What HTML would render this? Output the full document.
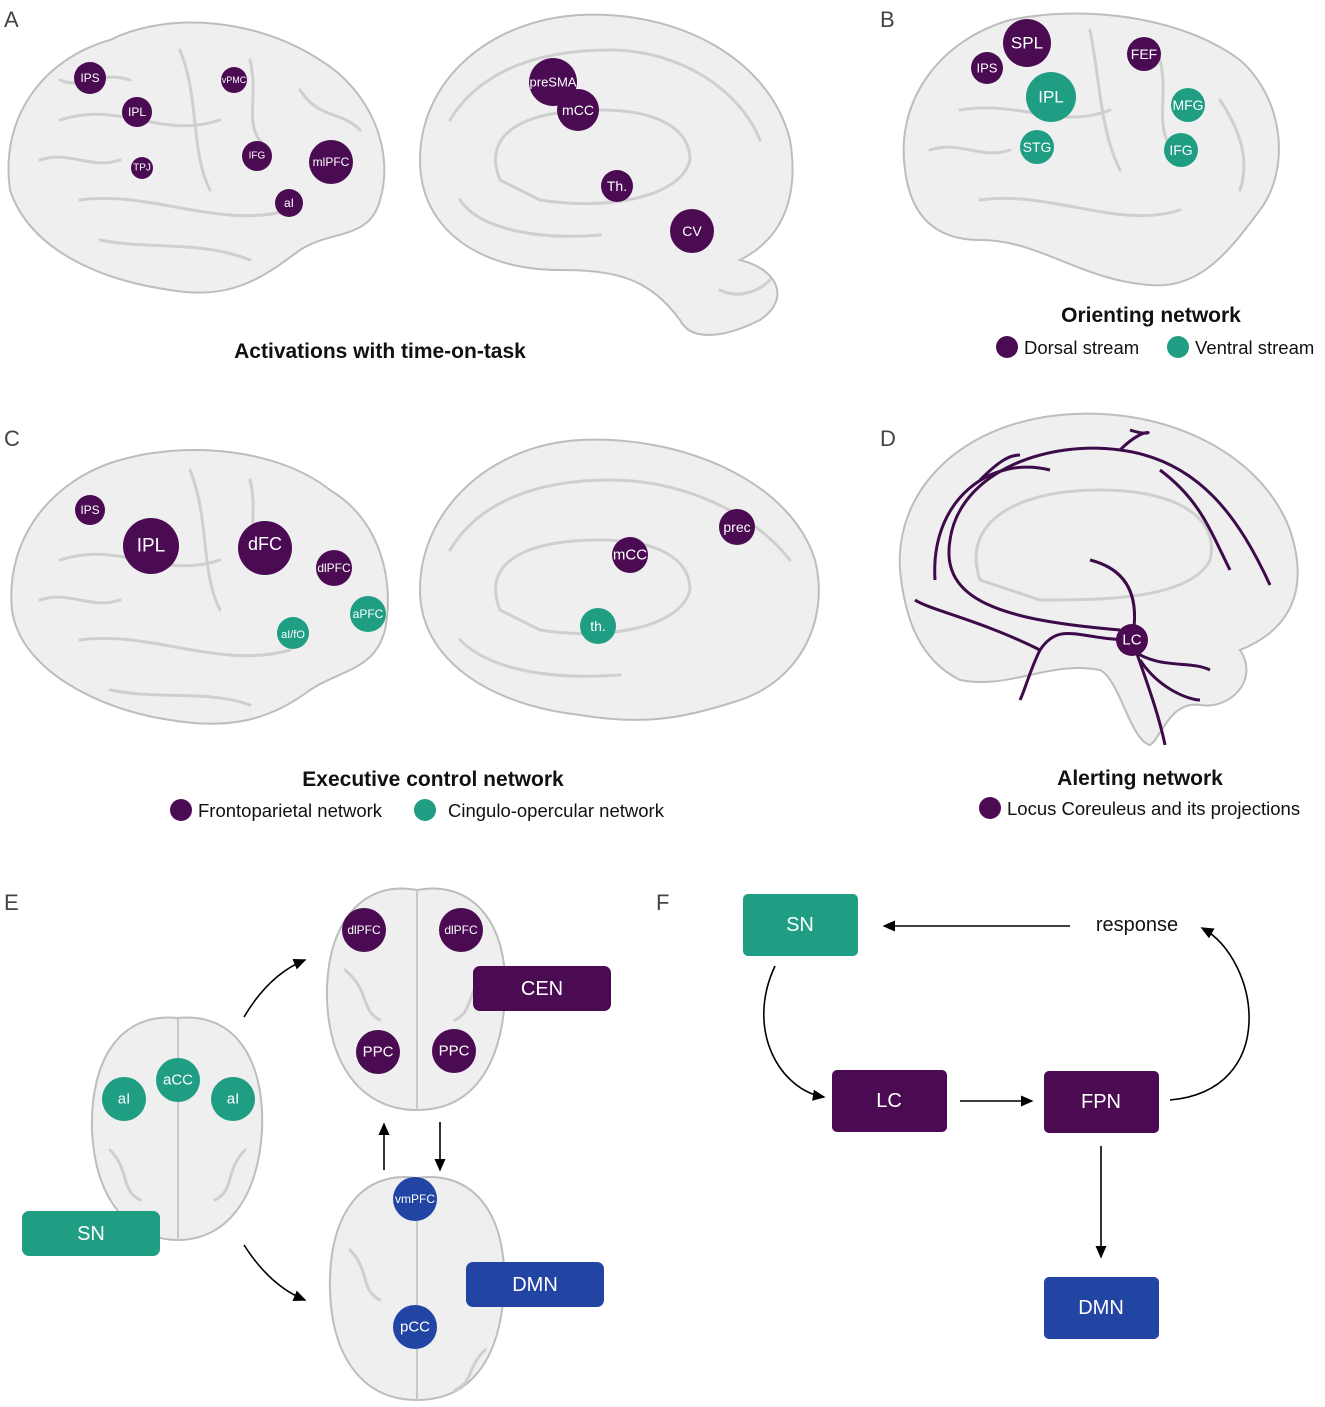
<!DOCTYPE html>
<html><head><meta charset="utf-8"><style>
html,body{margin:0;padding:0;background:#fff}
svg{display:block}
text{font-family:"Liberation Sans","DejaVu Sans",sans-serif}
.b{fill:#efefef;stroke:#bdbdbd;stroke-width:2}
.g{fill:none;stroke:#cfcfcf;stroke-width:3;stroke-linecap:round}
.p{fill:#4a0b52}.t{fill:#1f9e84}.bl{fill:#2244a2}
.w{fill:#fff;text-anchor:middle;dominant-baseline:central}
.h{font-size:21px;font-weight:bold;text-anchor:middle;fill:#111}
.l{font-size:18.5px;fill:#111}
.pl{font-size:22px;fill:#444}
</style></head><body>
<svg width="1325" height="1407" viewBox="0 0 1325 1407" xmlns="http://www.w3.org/2000/svg">
<defs><marker id="a" markerWidth="8" markerHeight="8" refX="7" refY="4" orient="auto"><path d="M0,0.5 L8,4 L0,7.5 Z" fill="#000"/></marker></defs>
<g class="pl"><text x="4" y="27">A</text><text x="880" y="27">B</text><text x="4" y="446">C</text><text x="880" y="446">D</text><text x="4" y="910">E</text><text x="656" y="910">F</text></g>

<!-- A brains -->
<path class="b" d="M10,190 C0,120 40,60 110,40 C170,10 260,20 320,60 C370,90 395,150 380,200 C370,240 330,230 300,250 C260,280 230,300 170,290 C100,280 30,250 10,190Z"/>
<path class="g" d="M60,120 C120,100 160,140 220,120 M80,200 C150,190 220,230 290,210 M180,50 C200,100 190,150 210,190 M40,160 C70,150 90,170 120,160 M250,60 C260,100 240,130 270,150 M300,90 C320,120 340,110 360,130 M100,240 C150,250 200,240 250,260 M60,80 C80,90 100,70 130,80"/>
<path class="b" d="M420,160 C420,80 490,20 580,15 C680,10 770,60 790,140 C800,200 780,240 740,260 C780,270 790,300 760,320 C720,340 690,340 680,320 C650,280 620,270 560,270 C480,270 420,230 420,160Z"/>
<path class="g" d="M500,180 C480,130 530,110 600,110 C660,110 690,130 690,160 C680,200 600,210 540,200Z M450,120 C480,70 540,50 610,50 C680,50 740,90 760,140 M460,200 C480,230 540,240 600,235 M720,290 C740,300 760,290 770,280"/>
<g class="p"><circle cx="90" cy="78" r="16"/><circle cx="137" cy="112" r="15"/><circle cx="234" cy="80" r="13"/><circle cx="142" cy="168" r="11"/><circle cx="257" cy="156" r="15"/><circle cx="331" cy="162" r="22"/><circle cx="289" cy="203" r="14"/><circle cx="553" cy="82" r="24"/><circle cx="578" cy="110" r="21"/><circle cx="617" cy="186" r="16"/><circle cx="692" cy="231" r="22"/></g>
<g class="w"><text x="90" y="78" font-size="12">IPS</text><text x="137" y="112" font-size="12">IPL</text><text x="234" y="80" font-size="9">vPMC</text><text x="142" y="168" font-size="10">TPJ</text><text x="257" y="156" font-size="10">IFG</text><text x="331" y="162" font-size="12">mlPFC</text><text x="289" y="203" font-size="12">aI</text><text x="553" y="82" font-size="13">preSMA</text><text x="578" y="110" font-size="14">mCC</text><text x="617" y="186" font-size="14">Th.</text><text x="692" y="231" font-size="14">CV</text></g>
<text class="h" x="380" y="358">Activations with time-on-task</text>

<!-- B -->
<path class="b" d="M905,170 C895,100 940,40 1010,20 C1080,5 1180,15 1240,60 C1285,100 1290,170 1260,210 C1230,250 1200,290 1150,285 C1080,280 1040,240 980,240 C930,240 910,210 905,170Z"/>
<path class="g" d="M960,110 C1020,100 1060,130 1110,110 M980,200 C1050,190 1120,230 1180,210 M1090,30 C1100,80 1100,130 1120,170 M930,150 C960,140 980,160 1010,150 M1160,60 C1170,100 1150,130 1180,160 M1220,100 C1240,130 1250,160 1240,190"/>
<g class="p"><circle cx="1027" cy="43" r="24"/><circle cx="987" cy="68" r="16"/><circle cx="1144" cy="54" r="17"/></g>
<g class="t"><circle cx="1051" cy="97" r="25"/><circle cx="1188" cy="105" r="17"/><circle cx="1037" cy="147" r="17"/><circle cx="1181" cy="150" r="17"/></g>
<g class="w"><text x="1027" y="43" font-size="17">SPL</text><text x="987" y="68" font-size="13">IPS</text><text x="1144" y="54" font-size="14">FEF</text><text x="1051" y="97" font-size="17">IPL</text><text x="1188" y="105" font-size="14">MFG</text><text x="1037" y="147" font-size="14">STG</text><text x="1181" y="150" font-size="14">IFG</text></g>
<text class="h" x="1151" y="322">Orienting network</text>
<circle class="p" cx="1007" cy="347" r="11"/><text class="l" x="1024" y="354">Dorsal stream</text>
<circle class="t" cx="1178" cy="347" r="11"/><text class="l" x="1195" y="354">Ventral stream</text>

<!-- C -->
<path class="b" d="M12,610 C5,540 50,480 120,460 C190,440 280,450 330,490 C380,520 395,580 385,630 C375,670 340,670 310,690 C270,720 230,730 170,720 C100,710 20,670 12,610Z"/>
<path class="g" d="M60,560 C120,540 160,580 220,560 M80,640 C150,630 220,670 290,650 M190,470 C210,520 200,570 220,610 M40,600 C70,590 90,610 120,600 M250,480 C260,520 240,550 270,570 M110,690 C160,700 210,690 250,705"/>
<path class="b" d="M420,590 C420,510 490,445 580,440 C680,435 790,480 815,560 C830,620 800,680 740,700 C680,720 640,725 580,715 C490,705 420,660 420,590Z"/>
<path class="g" d="M500,610 C480,560 530,540 600,540 C660,540 690,560 690,590 C680,630 600,640 540,630Z M450,550 C480,500 540,480 610,480 C680,480 750,510 790,560 M460,640 C490,670 550,680 620,675"/>
<g class="p"><circle cx="90" cy="510" r="15"/><circle cx="151" cy="546" r="28"/><circle cx="265" cy="548" r="27"/><circle cx="334" cy="568" r="18"/><circle cx="630" cy="555" r="18"/><circle cx="737" cy="527" r="18"/></g>
<g class="t"><circle cx="368" cy="614" r="18"/><circle cx="293" cy="633" r="16"/><circle cx="598" cy="626" r="18"/></g>
<g class="w"><text x="90" y="510" font-size="12">IPS</text><text x="151" y="546" font-size="19">IPL</text><text x="265" y="544" font-size="18">dFC</text><text x="334" y="568" font-size="12">dlPFC</text><text x="630" y="555" font-size="15">mCC</text><text x="737" y="527" font-size="14">prec</text><text x="368" y="614" font-size="12">aPFC</text><text x="293" y="635" font-size="11">aI/fO</text><text x="598" y="626" font-size="14">th.</text></g>
<text class="h" x="433" y="786">Executive control network</text>
<circle class="p" cx="181" cy="810" r="11"/><text class="l" x="198" y="817">Frontoparietal network</text>
<circle class="t" cx="425" cy="810" r="11"/><text class="l" x="448" y="817">Cingulo-opercular network</text>

<!-- D -->
<path class="b" d="M900,570 C895,490 960,425 1060,415 C1160,405 1260,450 1290,530 C1310,590 1290,630 1240,650 C1260,680 1230,710 1200,705 C1170,700 1160,740 1150,745 C1130,740 1120,680 1100,670 C1050,660 1010,690 960,680 C920,660 905,620 900,570Z"/>
<path class="g" d="M980,580 C960,520 1020,490 1100,490 C1180,490 1220,520 1210,560 C1190,600 1100,600 1040,600Z"/>
<g fill="none" stroke="#3d0b4a" stroke-width="3">
<path d="M1132,640 C1080,640 1060,620 1040,650 C1030,670 1025,690 1020,700"/>
<path d="M1120,630 C1000,620 940,600 950,540 C960,470 1050,440 1120,450 C1200,460 1240,520 1270,585"/>
<path d="M1040,650 C980,620 930,610 915,600"/>
<path d="M935,580 C930,500 990,455 1050,470"/>
<path d="M1120,450 C1150,420 1160,440 1130,430"/>
<path d="M1160,470 C1200,500 1210,530 1230,570"/>
<path d="M1132,640 C1140,600 1130,570 1090,560"/>
<path d="M1132,640 C1150,690 1160,720 1165,745"/>
<path d="M1132,650 C1160,670 1190,660 1210,670"/>
<path d="M1140,660 C1160,690 1190,700 1200,700"/>
<path d="M980,480 C1000,460 1010,455 1020,455"/>
</g>
<circle class="p" cx="1132" cy="640" r="16"/><text class="w" x="1132" y="640" font-size="15">LC</text>
<text class="h" x="1140" y="785">Alerting network</text>
<circle class="p" cx="990" cy="808" r="11"/><text class="l" x="1007" y="815">Locus Coreuleus and its projections</text>

<!-- E -->
<path class="b" d="M417,890 C470,880 510,920 505,1000 C500,1070 470,1110 417,1110 C365,1110 330,1070 327,1000 C325,920 365,880 417,890Z"/>
<path class="b" d="M178,1018 C235,1012 265,1060 262,1130 C258,1200 225,1240 178,1240 C130,1240 95,1200 92,1130 C90,1060 120,1012 178,1018Z"/>
<path class="b" d="M417,1178 C470,1170 508,1210 504,1290 C500,1360 470,1400 417,1400 C365,1400 332,1360 330,1290 C328,1210 365,1170 417,1178Z"/>
<g stroke="#c8c8c8" stroke-width="2"><line x1="417" y1="890" x2="417" y2="1110"/><line x1="178" y1="1018" x2="178" y2="1240"/><line x1="417" y1="1178" x2="417" y2="1400"/></g>
<g class="g" stroke-width="2"><path d="M345,970 C370,990 360,1010 380,1020 M490,970 C465,990 475,1010 455,1020 M110,1150 C130,1170 120,1190 140,1200 M245,1150 C225,1170 235,1190 215,1200 M350,1250 C370,1270 360,1290 380,1300 M485,1350 C465,1370 475,1380 455,1390"/></g>
<g class="p"><circle cx="364" cy="930" r="22"/><circle cx="461" cy="930" r="22"/><circle cx="378" cy="1052" r="22"/><circle cx="454" cy="1051" r="22"/></g>
<g class="t"><circle cx="178" cy="1080" r="22"/><circle cx="124" cy="1099" r="22"/><circle cx="233" cy="1099" r="22"/></g>
<g class="bl"><circle cx="415" cy="1199" r="22"/><circle cx="415" cy="1327" r="22"/></g>
<g class="w"><text x="364" y="930" font-size="12">dlPFC</text><text x="461" y="930" font-size="12">dlPFC</text><text x="378" y="1052" font-size="15">PPC</text><text x="454" y="1051" font-size="15">PPC</text><text x="178" y="1080" font-size="15">aCC</text><text x="124" y="1099" font-size="15">aI</text><text x="233" y="1099" font-size="15">aI</text><text x="415" y="1199" font-size="12">vmPFC</text><text x="415" y="1327" font-size="15">pCC</text></g>
<rect class="p" x="473" y="966" width="138" height="45" rx="7"/><text class="w" x="542" y="989" font-size="20">CEN</text>
<rect class="t" x="22" y="1211" width="138" height="45" rx="7"/><text class="w" x="91" y="1234" font-size="20">SN</text>
<rect class="bl" x="466" y="1262" width="138" height="45" rx="7"/><text class="w" x="535" y="1285" font-size="20">DMN</text>
<g fill="none" stroke="#000" stroke-width="1.6" marker-end="url(#a)">
<path d="M244,1017 C260,990 280,970 305,960"/>
<path d="M244,1245 C260,1270 280,1290 305,1300"/>
<path d="M384,1170 L384,1124"/>
<path d="M440,1122 L440,1170"/>
</g>

<!-- F -->
<rect class="t" x="743" y="894" width="115" height="62" rx="5"/><text class="w" x="800" y="925" font-size="20">SN</text>
<rect class="p" x="832" y="1070" width="115" height="62" rx="5"/><text class="w" x="889" y="1101" font-size="20">LC</text>
<rect class="p" x="1044" y="1071" width="115" height="62" rx="5"/><text class="w" x="1101" y="1102" font-size="20">FPN</text>
<rect class="bl" x="1044" y="1277" width="115" height="62" rx="5"/><text class="w" x="1101" y="1308" font-size="20">DMN</text>
<text x="1137" y="931" font-size="20" text-anchor="middle" fill="#111">response</text>
<g fill="none" stroke="#000" stroke-width="1.6" marker-end="url(#a)">
<path d="M1070,926 L884,926"/>
<path d="M775,966 C745,1030 780,1090 824,1097"/>
<path d="M960,1101 L1032,1101"/>
<path d="M1101,1146 L1101,1257"/>
<path d="M1170,1100 C1280,1090 1260,960 1202,928"/>
</g>
</svg>
</body></html>
